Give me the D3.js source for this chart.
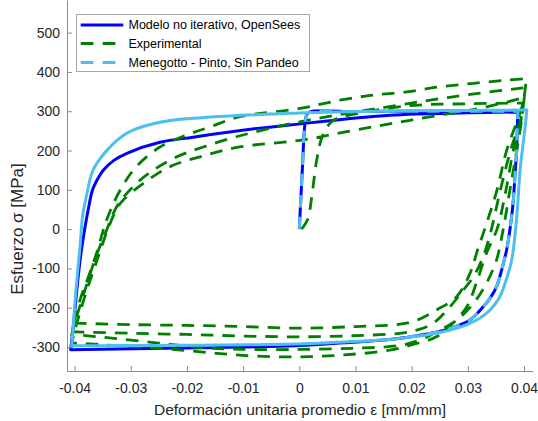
<!DOCTYPE html>
<html><head><meta charset="utf-8">
<script src="https://cdn.jsdelivr.net/npm/d3@7"></script>
<style>
html,body{margin:0;padding:0;background:#fff;}
svg{display:block;font-family:"Liberation Sans",Arial,Helvetica,sans-serif;}
</style></head>
<body><svg id="c" width="538" height="421"></svg>
<script>
// ---------------- DATA ----------------
const xTicks = [-0.04,-0.03,-0.02,-0.01,0,0.01,0.02,0.03,0.04];
const xTickLabels = ["-0.04","-0.03","-0.02","-0.01","0","0.01","0.02","0.03","0.04"];
const yTicks = [-300,-200,-100,0,100,200,300,400,500];
const yTickLabels = ["-300","-200","-100","0","100","200","300","400","500"];
const seriesNames = ["Modelo no iterativo, OpenSees","Experimental","Menegotto - Pinto, Sin Pandeo"];
const xLabel = "Deformación unitaria promedio ε [mm/mm]";
const yLabel = "Esfuerzo σ [MPa]";

// OpenSees model [strain, stress]
const osInitial = [[0,0],[0.0005,140],[0.001,268],[0.0013,290],[0.0018,298],[0.01,299],[0.02,300],[0.03,300],[0.0389,300]];
const osUnload = [[0.0389,300],[0.0388,250],[0.0387,201],[0.0384,140],[0.0381,74],[0.0376,10],[0.0369,-53],[0.036,-105],[0.0351,-147],[0.034,-175],[0.0327,-198],[0.0303,-232],[0.0268,-253],[0.0215,-270],[0.0161,-281],[0.008,-289],[0,-296],[-0.0141,-301],[-0.0266,-304],[-0.0407,-307]];
const osReload = [[-0.0407,-307],[-0.0404,-270],[-0.0399,-200],[-0.0393,-113],[-0.0388,-55],[-0.0382,0],[-0.0375,55],[-0.0368,100],[-0.0358,130],[-0.0349,150],[-0.033,175],[-0.0307,193],[-0.0248,221],[-0.0189,234],[-0.007,257],[-0.0017,265],[0.0161,290],[0.03,296],[0.0389,298]];

// Menegotto-Pinto model [strain, stress]
const mpInitial = [[0,0],[0.0005,140],[0.001,268],[0.0013,290],[0.0018,298],[0.01,299],[0.02,300],[0.03,300],[0.0389,300]];
const mpUnloadFirst = [[0.0389,300],[0.0388,250],[0.0387,201],[0.0384,140],[0.0381,74],[0.0376,10],[0.0369,-53],[0.036,-105],[0.0351,-147],[0.034,-175],[0.0327,-198],[0.0303,-232],[0.0268,-253],[0.0215,-270],[0.0161,-281],[0.008,-287],[0,-292],[-0.0141,-295],[-0.0266,-296],[-0.0405,-297]];
const mpReload = [[-0.0405,-297],[-0.0403,-260],[-0.0399,-181],[-0.0394,-100],[-0.039,-40],[-0.0386,30],[-0.0378,90],[-0.0367,150],[-0.0342,201],[-0.0307,244],[-0.0248,272],[-0.0159,285],[-0.0011,295],[0.01,299],[0.02,301],[0.03,302],[0.0405,303]];
const mpUnload = [[0.0405,303],[0.0402,260],[0.0397,201],[0.0393,150],[0.0387,31],[0.0378,-79],[0.0368,-130],[0.0357,-172],[0.034,-205],[0.0315,-232],[0.0268,-257],[0.0179,-278],[0.008,-287],[0,-292],[-0.0141,-295],[-0.0266,-296],[-0.0405,-297]];

// Experimental [strain, stress]
const expInitial = [[0.0004,0],[0.0015,25],[0.0022,80],[0.0031,176],[0.0042,240],[0.006,276],[0.01,293],[0.0197,314],[0.03,319],[0.0398,321]];
const expDown1 = [[0.0398,321],[0.0393,260],[0.0381,200],[0.0368,100],[0.0352,0],[0.0333,-62],[0.0315,-138],[0.0298,-198],[0.0273,-240],[0.0244,-274],[0.0209,-291],[0.0161,-308],[0.008,-320],[0,-325],[-0.008,-323],[-0.0147,-316],[-0.025,-303],[-0.033,-296],[-0.0387,-291],[-0.0405,-290]];
const expUp1 = [[-0.0405,-290],[-0.0398,-250],[-0.0388,-200],[-0.0377,-150],[-0.0365,-100],[-0.0352,-45],[-0.0338,10],[-0.0319,65],[-0.0278,116],[-0.023,159],[-0.0177,184],[-0.0106,209],[0.0001,226],[0.01,252],[0.0197,277],[0.0333,311],[0.04,335]];
const expDown2 = [[0.04,335],[0.0396,280],[0.0387,200],[0.0375,100],[0.0363,0],[0.0351,-79],[0.0333,-138],[0.031,-189],[0.028,-232],[0.025,-257],[0.0215,-282],[0.0179,-296],[0.01,-303],[0,-306],[-0.01,-306],[-0.016,-303],[-0.025,-290],[-0.033,-278],[-0.0387,-270],[-0.0405,-268]];
const expUp2 = [[-0.0405,-268],[-0.0398,-230],[-0.0388,-185],[-0.0376,-130],[-0.0362,-70],[-0.0345,-10],[-0.0325,57],[-0.0296,108],[-0.026,150],[-0.0218,184],[-0.0171,209],[-0.0112,235],[0.0001,273],[0.0197,320],[0.03,342],[0.0402,360]];
const expDown3 = [[0.0402,360],[0.0396,290],[0.0376,200],[0.0358,100],[0.0342,0],[0.0327,-71],[0.031,-121],[0.0292,-155],[0.0268,-198],[0.0238,-240],[0.0209,-257],[0.0179,-265],[0.01,-271],[0,-274],[-0.01,-272],[-0.02,-268],[-0.03,-265],[-0.0387,-262],[-0.0405,-261]];
const expUp3 = [[-0.0405,-261],[-0.0398,-220],[-0.0388,-170],[-0.0375,-120],[-0.0361,-62],[-0.0343,23],[-0.0319,99],[-0.029,159],[-0.0248,209],[-0.0201,239],[-0.0159,260],[-0.0106,286],[0.0001,307],[0.0072,328],[0.0131,341],[0.0191,349],[0.025,362],[0.031,371],[0.0369,379],[0.0404,383]];
const expDown4 = [[0.0404,383],[0.0398,320],[0.0369,200],[0.0352,100],[0.033,0],[0.0318,-50],[0.0304,-112],[0.028,-172],[0.0244,-206],[0.0209,-232],[0.0179,-242],[0.01,-248],[0,-252],[-0.01,-248],[-0.02,-245],[-0.03,-243],[-0.0381,-240],[-0.0405,-239]];

// ---------------- CHART ----------------
const svg = d3.select("#c");
const plotL = 67, plotR = 533, plotT = 0, plotB = 371;
const x = d3.scaleLinear().domain([-0.04135, 0.0416]).range([plotL, plotR]);
const y = d3.scaleLinear().domain([-361, 583]).range([plotB, plotT]);

const textColor = "#262626";
const axisColor = "#8c8c8c";

svg.append("defs").append("clipPath").attr("id","clip")
  .append("rect").attr("x",plotL).attr("y",plotT).attr("width",plotR-plotL).attr("height",plotB-plotT);

const line = d3.line().x(d=>x(d[0])).y(d=>y(d[1])).curve(d3.curveCatmullRom.alpha(0.5));
const g = svg.append("g").attr("clip-path","url(#clip)");

const osData = [].concat(osInitial, osUnload, osReload);
const mpData = [].concat(mpInitial, mpUnloadFirst, mpReload, mpUnload, mpReload, mpUnload, mpReload, mpUnload);
const expData = [].concat(expInitial, expDown1, expUp1, expDown2, expUp2, expDown3, expUp3, expDown4);

const colors = ["#0000ff","#008000","#4dbeee"];
g.append("path").attr("d", line(osData)).attr("fill","none").attr("stroke",colors[0]).attr("stroke-width",3).attr("stroke-linejoin","round");
g.append("path").attr("d", line(expData)).attr("fill","none").attr("stroke",colors[1]).attr("stroke-width",2.8).attr("stroke-dasharray","12.5,9");
g.append("path").attr("d", line(mpData)).attr("fill","none").attr("stroke",colors[2]).attr("stroke-width",3).attr("stroke-dasharray","12.5,9");

// Axes
const xAxis = d3.axisBottom(x).tickValues(xTicks).tickFormat((d,i)=>xTickLabels[i]).tickSizeInner(-5).tickSizeOuter(0).tickPadding(12);
const yAxis = d3.axisLeft(y).tickValues(yTicks).tickFormat((d,i)=>yTickLabels[i]).tickSizeInner(-5).tickSizeOuter(0).tickPadding(7);
const gx = svg.append("g").attr("transform",`translate(0,${plotB})`).call(xAxis);
const gy = svg.append("g").attr("transform",`translate(${plotL},0)`).call(yAxis);
[gx,gy].forEach(a=>{
  a.select(".domain").attr("stroke",axisColor).attr("stroke-width",1);
  a.selectAll(".tick line").attr("stroke",axisColor);
  a.selectAll(".tick text").attr("fill",textColor).style("font-size","14px").style("font-family",'"Liberation Sans",Arial,sans-serif');
});

svg.append("text").attr("x",(plotL+plotR)/2).attr("y",415).attr("text-anchor","middle")
  .attr("fill",textColor).style("font-size","15.5px").text(xLabel);
svg.append("text").attr("transform","translate(23,229) rotate(-90)").attr("text-anchor","middle")
  .attr("fill",textColor).style("font-size","17px").text(yLabel);

// Legend
const lg = svg.append("g");
lg.append("rect").attr("x",76.5).attr("y",14.5).attr("width",233).attr("height",57)
  .attr("fill","#fff").attr("stroke","#a6a6a6").attr("stroke-width",1);
const rowsY = [25,43.5,62.5];
const dashes = [null,"12.7,9.3","12.7,9.3"];
seriesNames.forEach((n,i)=>{
  lg.append("line").attr("x1",80.7).attr("x2",123.3).attr("y1",rowsY[i]).attr("y2",rowsY[i])
    .attr("stroke",colors[i]).attr("stroke-width",3).attr("stroke-dasharray",dashes[i]);
  lg.append("text").attr("x",128.5).attr("y",rowsY[i]).attr("dy","0.35em")
    .attr("fill","#000").style("font-size","12.5px").text(n);
});
</script></body></html>
